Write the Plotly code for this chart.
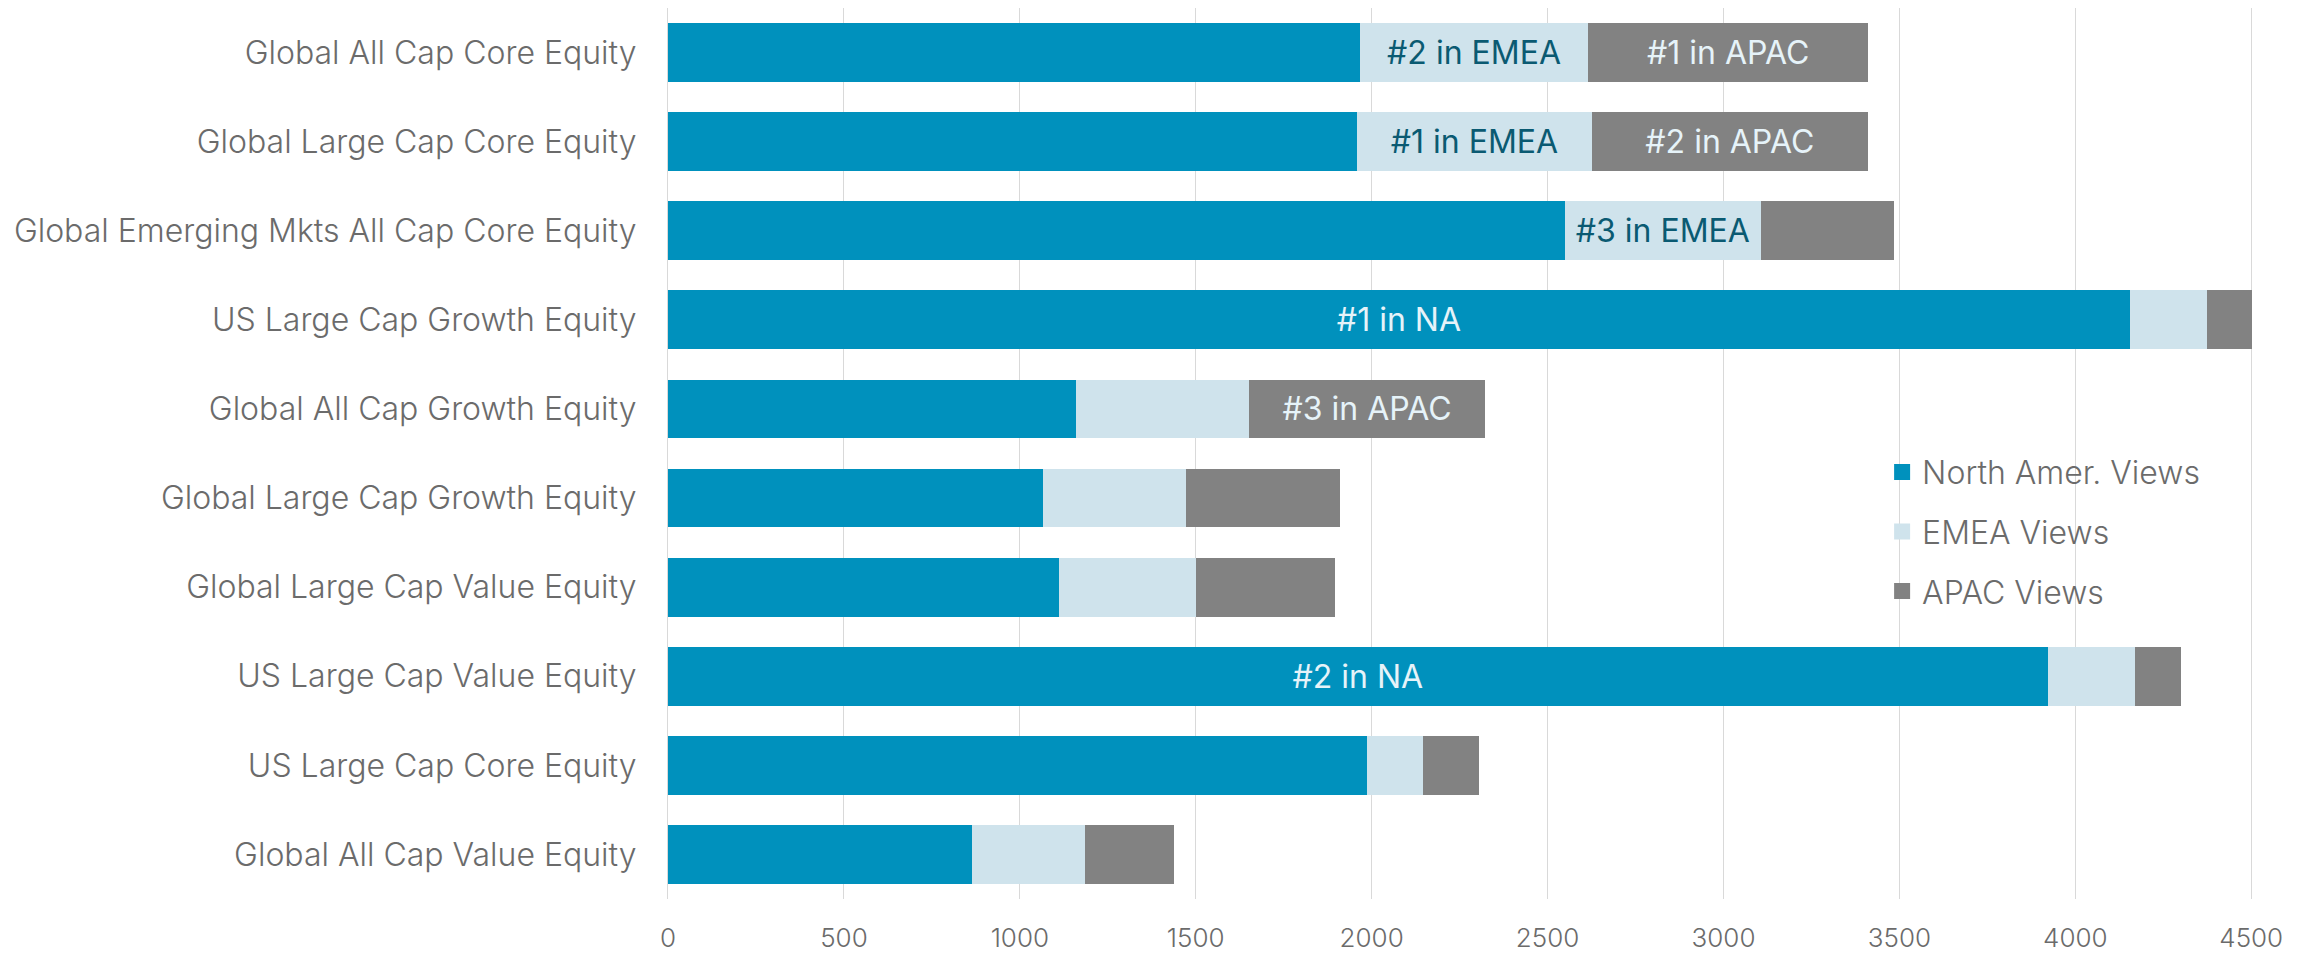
import plotly.graph_objects as go

# Strategy categories, top to bottom
categories = [
    "Global All Cap Core Equity",
    "Global Large Cap Core Equity",
    "Global Emerging Mkts All Cap Core Equity",
    "US Large Cap Growth Equity",
    "Global All Cap Growth Equity",
    "Global Large Cap Growth Equity",
    "Global Large Cap Value Equity",
    "US Large Cap Value Equity",
    "US Large Cap Core Equity",
    "Global All Cap Value Equity",
]

# Page views by region
na_views = [1967, 1958, 2549, 4155, 1160, 1066, 1111, 3921, 1986, 864]
emea_views = [648, 668, 557, 220, 491, 407, 389, 249, 161, 321]
apac_views = [797, 784, 378, 128, 672, 436, 396, 129, 158, 254]

# Regional ranking call-outs shown inside the segments
na_rank = ["", "", "", "#1 in NA", "", "", "", "#2 in NA", "", ""]
emea_rank = ["#2 in EMEA", "#1 in EMEA", "#3 in EMEA", "", "", "", "", "", "", ""]
apac_rank = ["#1 in APAC", "#2 in APAC", "", "", "#3 in APAC", "", "", "", "", ""]

x_ticks = [0, 500, 1000, 1500, 2000, 2500, 3000, 3500, 4000, 4500]

FONT = "Inter"
GREY_TEXT = "#6b6b6b"
LIGHT_TEXT = "#e6f3f9"
DARK_TEXT = "#0a5a72"

series = [
    ("North Amer. Views", na_views, na_rank, "#0091bd", LIGHT_TEXT),
    ("EMEA Views", emea_views, emea_rank, "#cfe3ec", DARK_TEXT),
    ("APAC Views", apac_views, apac_rank, "#828282", LIGHT_TEXT),
]

fig = go.Figure()
for i, (name, vals, ranks, color, txtcolor) in enumerate(series):
    fig.add_trace(go.Bar(
        name=name,
        y=categories,
        x=vals,
        orientation="h",
        marker=dict(color=color, line=dict(width=0)),
        text=ranks,
        textposition="inside",
        insidetextanchor="middle",
        textangle=0,
        constraintext="none",
        textfont=dict(family=FONT, size=32, color=txtcolor, weight=400),
        showlegend=False,
        hoverinfo="x+name",
    ))

# Legend entries with larger square swatches
for i, (name, vals, ranks, color, txtcolor) in enumerate(series):
    fig.add_trace(go.Scatter(
        name=name,
        x=[None],
        y=[None],
        mode="markers",
        marker=dict(symbol="square", size=18, color=color),
        legendgroup=f"g{i}",
        showlegend=True,
    ))

fig.update_layout(
    barmode="stack",
    bargap=0.34,
    width=2318,
    height=957,
    margin=dict(l=668, r=65, t=8, b=58, autoexpand=False),
    paper_bgcolor="white",
    plot_bgcolor="white",
    font=dict(family=FONT, color=GREY_TEXT),
    legend=dict(
        x=0.766,
        y=0.51,
        xanchor="left",
        yanchor="top",
        bgcolor="rgba(0,0,0,0)",
        font=dict(family=FONT, size=32, color=GREY_TEXT, weight=300),
        traceorder="grouped",
        tracegroupgap=15,
        itemwidth=30,
    ),
    xaxis=dict(
        range=[0, 4505],
        tickvals=x_ticks,
        ticktext=[str(v) for v in x_ticks],
        showgrid=True,
        gridcolor="#d9d9d9",
        gridwidth=1,
        zeroline=False,
        showline=False,
        ticks="",
        tickfont=dict(family=FONT, size=26, color=GREY_TEXT, weight=300),
        ticklabelstandoff=21,
    ),
    yaxis=dict(
        categoryorder="array",
        categoryarray=categories,
        autorange="reversed",
        showgrid=False,
        zeroline=False,
        showline=True,
        linecolor="#d9d9d9",
        linewidth=1,
        ticks="",
        tickfont=dict(family=FONT, size=32, color=GREY_TEXT, weight=300),
        ticklabelstandoff=24,
    ),
)

fig.write_html("out.html")
